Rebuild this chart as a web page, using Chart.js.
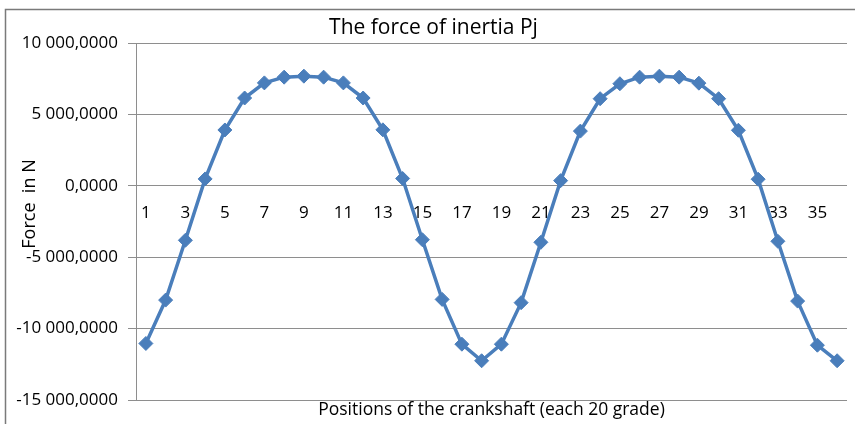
<!DOCTYPE html>
<html>
<head>
<meta charset="utf-8">
<script src="https://cdn.jsdelivr.net/npm/chart.js@4/dist/chart.umd.min.js"></script>
<style>
  html, body { margin: 0; padding: 0; background: #ffffff; }
  #c { display: block; }
</style>
</head>
<body>
<canvas id="c" width="855" height="424"></canvas>
<script>
// ---- data ----
const categories = ['1','2','3','4','5','6','7','8','9','10','11','12','13','14','15','16','17','18',
                    '19','20','21','22','23','24','25','26','27','28','29','30','31','32','33','34','35','36'];
const forceValues = [-11040, -8000, -3810, 490, 3920, 6160, 7220, 7620, 7690, 7620, 7220, 6160,
                     3930, 520, -3770, -7950, -11090, -12250, -11090, -8180, -3950, 370, 3840, 6110,
                     7160, 7620, 7690, 7620, 7200, 6110, 3900, 470, -3880, -8070, -11160, -12250];
const yTickValues = [-15000, -10000, -5000, 0, 5000, 10000];
const chartTitle = 'The force of inertia Pj';
const xTitle = 'Positions of the crankshaft (each 20 grade)';
const yTitle = 'Force  in N';

const FONT = '"Open Sans", "Liberation Sans", sans-serif';
const GRID = '#8e8e8e';

function fmt(v) {
  const neg = v < 0;
  const parts = Math.abs(v).toFixed(4).split('.');
  const intPart = parts[0].replace(/\B(?=(\d{3})+(?!\d))/g, ' ');
  return (neg ? '-' : '') + intPart + ',' + parts[1];
}

const framePlugin = {
  id: 'frame',
  beforeDraw(chart) {
    const ctx = chart.ctx;
    ctx.save();
    ctx.strokeStyle = '#7a7a7a';
    ctx.lineWidth = 1.5;
    ctx.beginPath();
    ctx.moveTo(5.5, 430);
    ctx.lineTo(5.5, 9.5);
    ctx.lineTo(870, 9.5);
    ctx.stroke();
    ctx.restore();
  },
  afterDraw(chart) {
    const ctx = chart.ctx;
    ctx.save();
    ctx.translate(30, 204);
    ctx.rotate(-Math.PI / 2);
    ctx.font = '18px ' + FONT;
    ctx.fillStyle = '#000';
    ctx.textAlign = 'center';
    ctx.textBaseline = 'middle';
    ctx.fillText(yTitle, 0, 0);
    ctx.restore();
  }
};

new Chart(document.getElementById('c'), {
  type: 'line',
  data: {
    labels: categories,
    datasets: [{
      data: forceValues,
      xAxisID: 'x',
      yAxisID: 'y',
      borderColor: '#4A7EBB',
      backgroundColor: '#4A7EBB',
      borderWidth: 3.5,
      tension: 0,
      pointStyle: 'rectRot',
      pointRadius: 7,
      pointBackgroundColor: '#4A7EBB',
      pointBorderColor: '#4A7EBB',
      pointBorderWidth: 1,
      clip: false
    }]
  },
  options: {
    responsive: false,
    animation: false,
    layout: { padding: { top: 15, right: 2, bottom: 3, left: 14 } },
    plugins: {
      legend: { display: false },
      tooltip: { enabled: false },
      title: {
        display: true,
        text: chartTitle,
        color: '#000',
        font: { family: FONT, size: 21, weight: 'normal' },
        padding: { top: 0, bottom: 3 }
      }
    },
    scales: {
      x: {
        type: 'category',
        position: { y: 0 },
        offset: true,
        grid: { display: false, drawTicks: false },
        border: { display: false },
        ticks: {
          autoSkip: false,
          maxRotation: 0,
          minRotation: 0,
          padding: 17,
          color: '#000',
          font: { family: FONT, size: 17 },
          callback: function (val, idx) { return idx % 2 === 0 ? this.getLabelForValue(val) : ''; }
        }
      },
      xb: {
        type: 'category',
        position: 'bottom',
        offset: true,
        grid: { display: false, drawTicks: false },
        border: { display: false },
        ticks: { display: false },
        title: {
          display: true,
          text: xTitle,
          color: '#000',
          font: { family: FONT, size: 17.5 },
          padding: { top: 0, bottom: 0 }
        }
      },
      y: {
        type: 'linear',
        min: yTickValues[0],
        max: yTickValues[yTickValues.length - 1],
        afterBuildTicks: (scale) => { scale.ticks = yTickValues.map(v => ({ value: v })); },
        afterFit: (scale) => { scale.width = 122; },
        grid: { color: GRID, lineWidth: 1, drawTicks: true, tickLength: 8, tickColor: GRID },
        border: { display: true, color: GRID, width: 1 },
        ticks: {
          padding: 10,
          color: '#000',
          font: { family: FONT, size: 17 },
          callback: (v) => fmt(v)
        }
      }
    }
  },
  plugins: [framePlugin]
});
</script>
</body>
</html>
